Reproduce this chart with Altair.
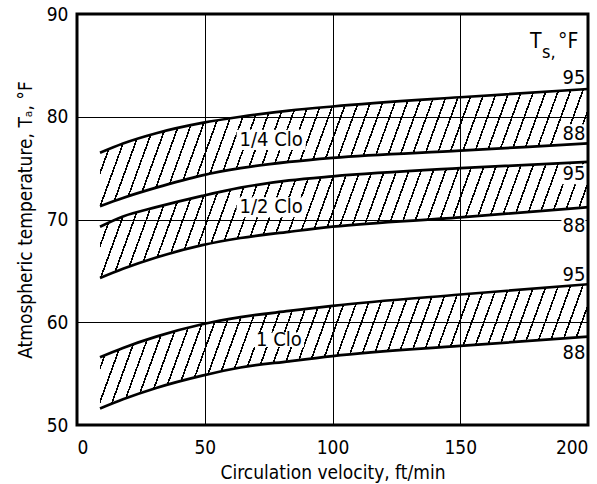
import math
import altair as alt
import pandas as pd

# ---- data ----
velocity = [9, 18, 31, 49, 64, 83, 100, 150, 200]
quarter_95 = [76.5, 77.4, 78.4, 79.4, 80.0, 80.6, 81.0, 81.9, 82.7]
quarter_88 = [71.3, 72.1, 73.1, 74.3, 75.0, 75.6, 76.0, 76.7, 77.4]
half_95 = [69.3, 70.3, 71.2, 72.3, 73.1, 73.8, 74.2, 75.0, 75.6]
half_88 = [64.3, 65.2, 66.3, 67.5, 68.2, 68.8, 69.3, 70.2, 71.2]
one_95 = [56.6, 57.5, 58.6, 59.8, 60.5, 61.1, 61.6, 62.7, 63.7]
one_88 = [51.6, 52.5, 53.6, 54.8, 55.6, 56.2, 56.7, 57.7, 58.6]

band_names = ["1/4 Clo", "1/2 Clo", "1 Clo"]
band_label_x = [76, 76, 79]
band_label_y = [77.75, 71.2, 58.3]

end_texts = ["95", "88", "95", "88", "95", "88"]
end_x = [199, 199, 199, 199, 199, 199]
end_y = [83.8, 78.3, 74.4, 69.4, 64.6, 57.0]

x_ticks = [0, 50, 100, 150, 200]
y_ticks = [50, 60, 70, 80, 90]

FONT = "DejaVu Sans Condensed, Liberation Sans Narrow, Roboto Condensed, Roboto, Liberation Sans, sans-serif"
PW, PH = 511, 411
X_DOM, Y_DOM = [0, 200], [50, 90]

xs = alt.Scale(domain=X_DOM, nice=False, zero=False)
ys = alt.Scale(domain=Y_DOM, nice=False, zero=False)

bands = [
    ("1/4 Clo", quarter_88, quarter_95),
    ("1/2 Clo", half_88, half_95),
    ("1 Clo", one_88, one_95),
]


def hatch(lo, hi, spacing=11.5, lw=1.6, theta_deg=70.0):
    W = (velocity[-1] - velocity[0]) / (X_DOM[1] - X_DOM[0]) * PW
    H = (max(hi) - min(lo)) / (Y_DOM[1] - Y_DOM[0]) * PH
    s, c = math.sin(math.radians(theta_deg)), math.cos(math.radians(theta_deg))
    L = W * s + H * c
    a = L / (W * W * s * s + H * H * c * c)
    gx, gy = a * W * s, a * H * c
    clear = "rgba(0,0,0,0)"
    hw = lw / 2 / L
    stops = [alt.GradientStop(offset=0, color=clear)]
    k = 0
    while True:
        cp = (k + 0.5) * spacing / L
        if cp + hw >= 1:
            break
        for off, col in ((cp - hw, clear), (cp - hw, "black"), (cp + hw, "black"), (cp + hw, clear)):
            stops.append(alt.GradientStop(offset=round(off, 6), color=col))
        k += 1
    stops.append(alt.GradientStop(offset=1, color=clear))
    return alt.Gradient(gradient="linear", x1=0, y1=0, x2=round(gx, 6), y2=round(gy, 6), stops=stops)


layers = []
line_rows = []
for name, lo, hi in bands:
    df = pd.DataFrame({"v": velocity, "lo": lo, "hi": hi})
    layers.append(
        alt.Chart(df).mark_area(interpolate="monotone", fill=hatch(lo, hi), strokeWidth=0).encode(
            x=alt.X("v:Q", scale=xs), y=alt.Y("lo:Q", scale=ys), y2="hi:Q"
        )
    )
    for v, a_, b_ in zip(velocity, lo, hi):
        line_rows.append({"v": v, "t": a_, "s": name + " 88"})
        line_rows.append({"v": v, "t": b_, "s": name + " 95"})

lines = alt.Chart(pd.DataFrame(line_rows)).mark_line(
    interpolate="monotone", color="black", strokeWidth=2.7
).encode(x=alt.X("v:Q", scale=xs), y=alt.Y("t:Q", scale=ys), detail="s:N")

band_df = pd.DataFrame({"name": band_names, "x": band_label_x, "y": band_label_y})
band_df["box"] = [(len(n) * 9.3 + 4) ** 2 for n in band_names]
end_df = pd.DataFrame({"name": end_texts, "x": end_x, "y": end_y})

band_boxes = alt.Chart(band_df).mark_point(
    shape="M-1,-0.29L1,-0.29L1,0.29L-1,0.29Z", filled=True, fill="white", opacity=1, strokeWidth=0
).encode(x=alt.X("x:Q", scale=xs), y=alt.Y("y:Q", scale=ys), size=alt.Size("box:Q", scale=None, legend=None))
band_text = alt.Chart(band_df).mark_text(
    font=FONT, fontSize=20, color="black", baseline="middle"
).encode(x=alt.X("x:Q", scale=xs), y=alt.Y("y:Q", scale=ys), text="name:N")

end_boxes = alt.Chart(end_df).mark_point(
    shape="M-1,-0.83L1,-0.83L1,0.83L-1,0.83Z", filled=True, fill="white", opacity=1, strokeWidth=0, size=576,
    xOffset=-12
).encode(x=alt.X("x:Q", scale=xs), y=alt.Y("y:Q", scale=ys))
end_text = alt.Chart(end_df).mark_text(
    font=FONT, fontSize=20, color="black", baseline="middle", align="right"
).encode(x=alt.X("x:Q", scale=xs), y=alt.Y("y:Q", scale=ys), text="name:N")

t_main = alt.Chart(pd.DataFrame({"t": ["T"]})).mark_text(
    font=FONT, fontSize=21, align="left", baseline="alphabetic", color="black"
).encode(x=alt.value(453), y=alt.value(34), text="t:N")
t_sub = alt.Chart(pd.DataFrame({"t": ["s,"]})).mark_text(
    font=FONT, fontSize=18, align="left", baseline="alphabetic", color="black"
).encode(x=alt.value(465), y=alt.value(44), text="t:N")
t_unit = alt.Chart(pd.DataFrame({"t": ["°F"]})).mark_text(
    font=FONT, fontSize=21, align="left", baseline="alphabetic", color="black"
).encode(x=alt.value(481), y=alt.value(34), text="t:N")

axes_df = pd.DataFrame({"v": [0, 200], "t": [50, 90]})
axes = alt.Chart(axes_df).mark_point(opacity=0).encode(
    x=alt.X("v:Q", scale=xs, axis=alt.Axis(
        values=x_ticks, title="Circulation velocity, ft/min", grid=True, ticks=False, domain=False,
        labelPadding=13, titlePadding=6)),
    y=alt.Y("t:Q", scale=ys, axis=alt.Axis(
        values=y_ticks, title="Atmospheric temperature, Tₐ, °F", grid=True, ticks=False, domain=False,
        labelPadding=9, titlePadding=11)),
)

chart = alt.layer(
    axes, *layers, band_boxes, end_boxes, lines, band_text, end_text, t_main, t_sub, t_unit
).properties(
    width=PW, height=PH, autosize=alt.AutoSizeParams(type="none"),
    padding={"left": 77, "top": 14, "right": 9, "bottom": 59},
    background="white",
).configure_view(
    stroke="black", strokeWidth=3
).configure_axis(
    gridColor="black", gridWidth=1, gridOpacity=1,
    labelFont=FONT, labelFontSize=19, labelColor="black",
    titleFont=FONT, titleFontSize=19, titleFontWeight="normal", titleColor="black",
)

chart.save("out.html", embed_options={"renderer": "svg", "actions": False})
